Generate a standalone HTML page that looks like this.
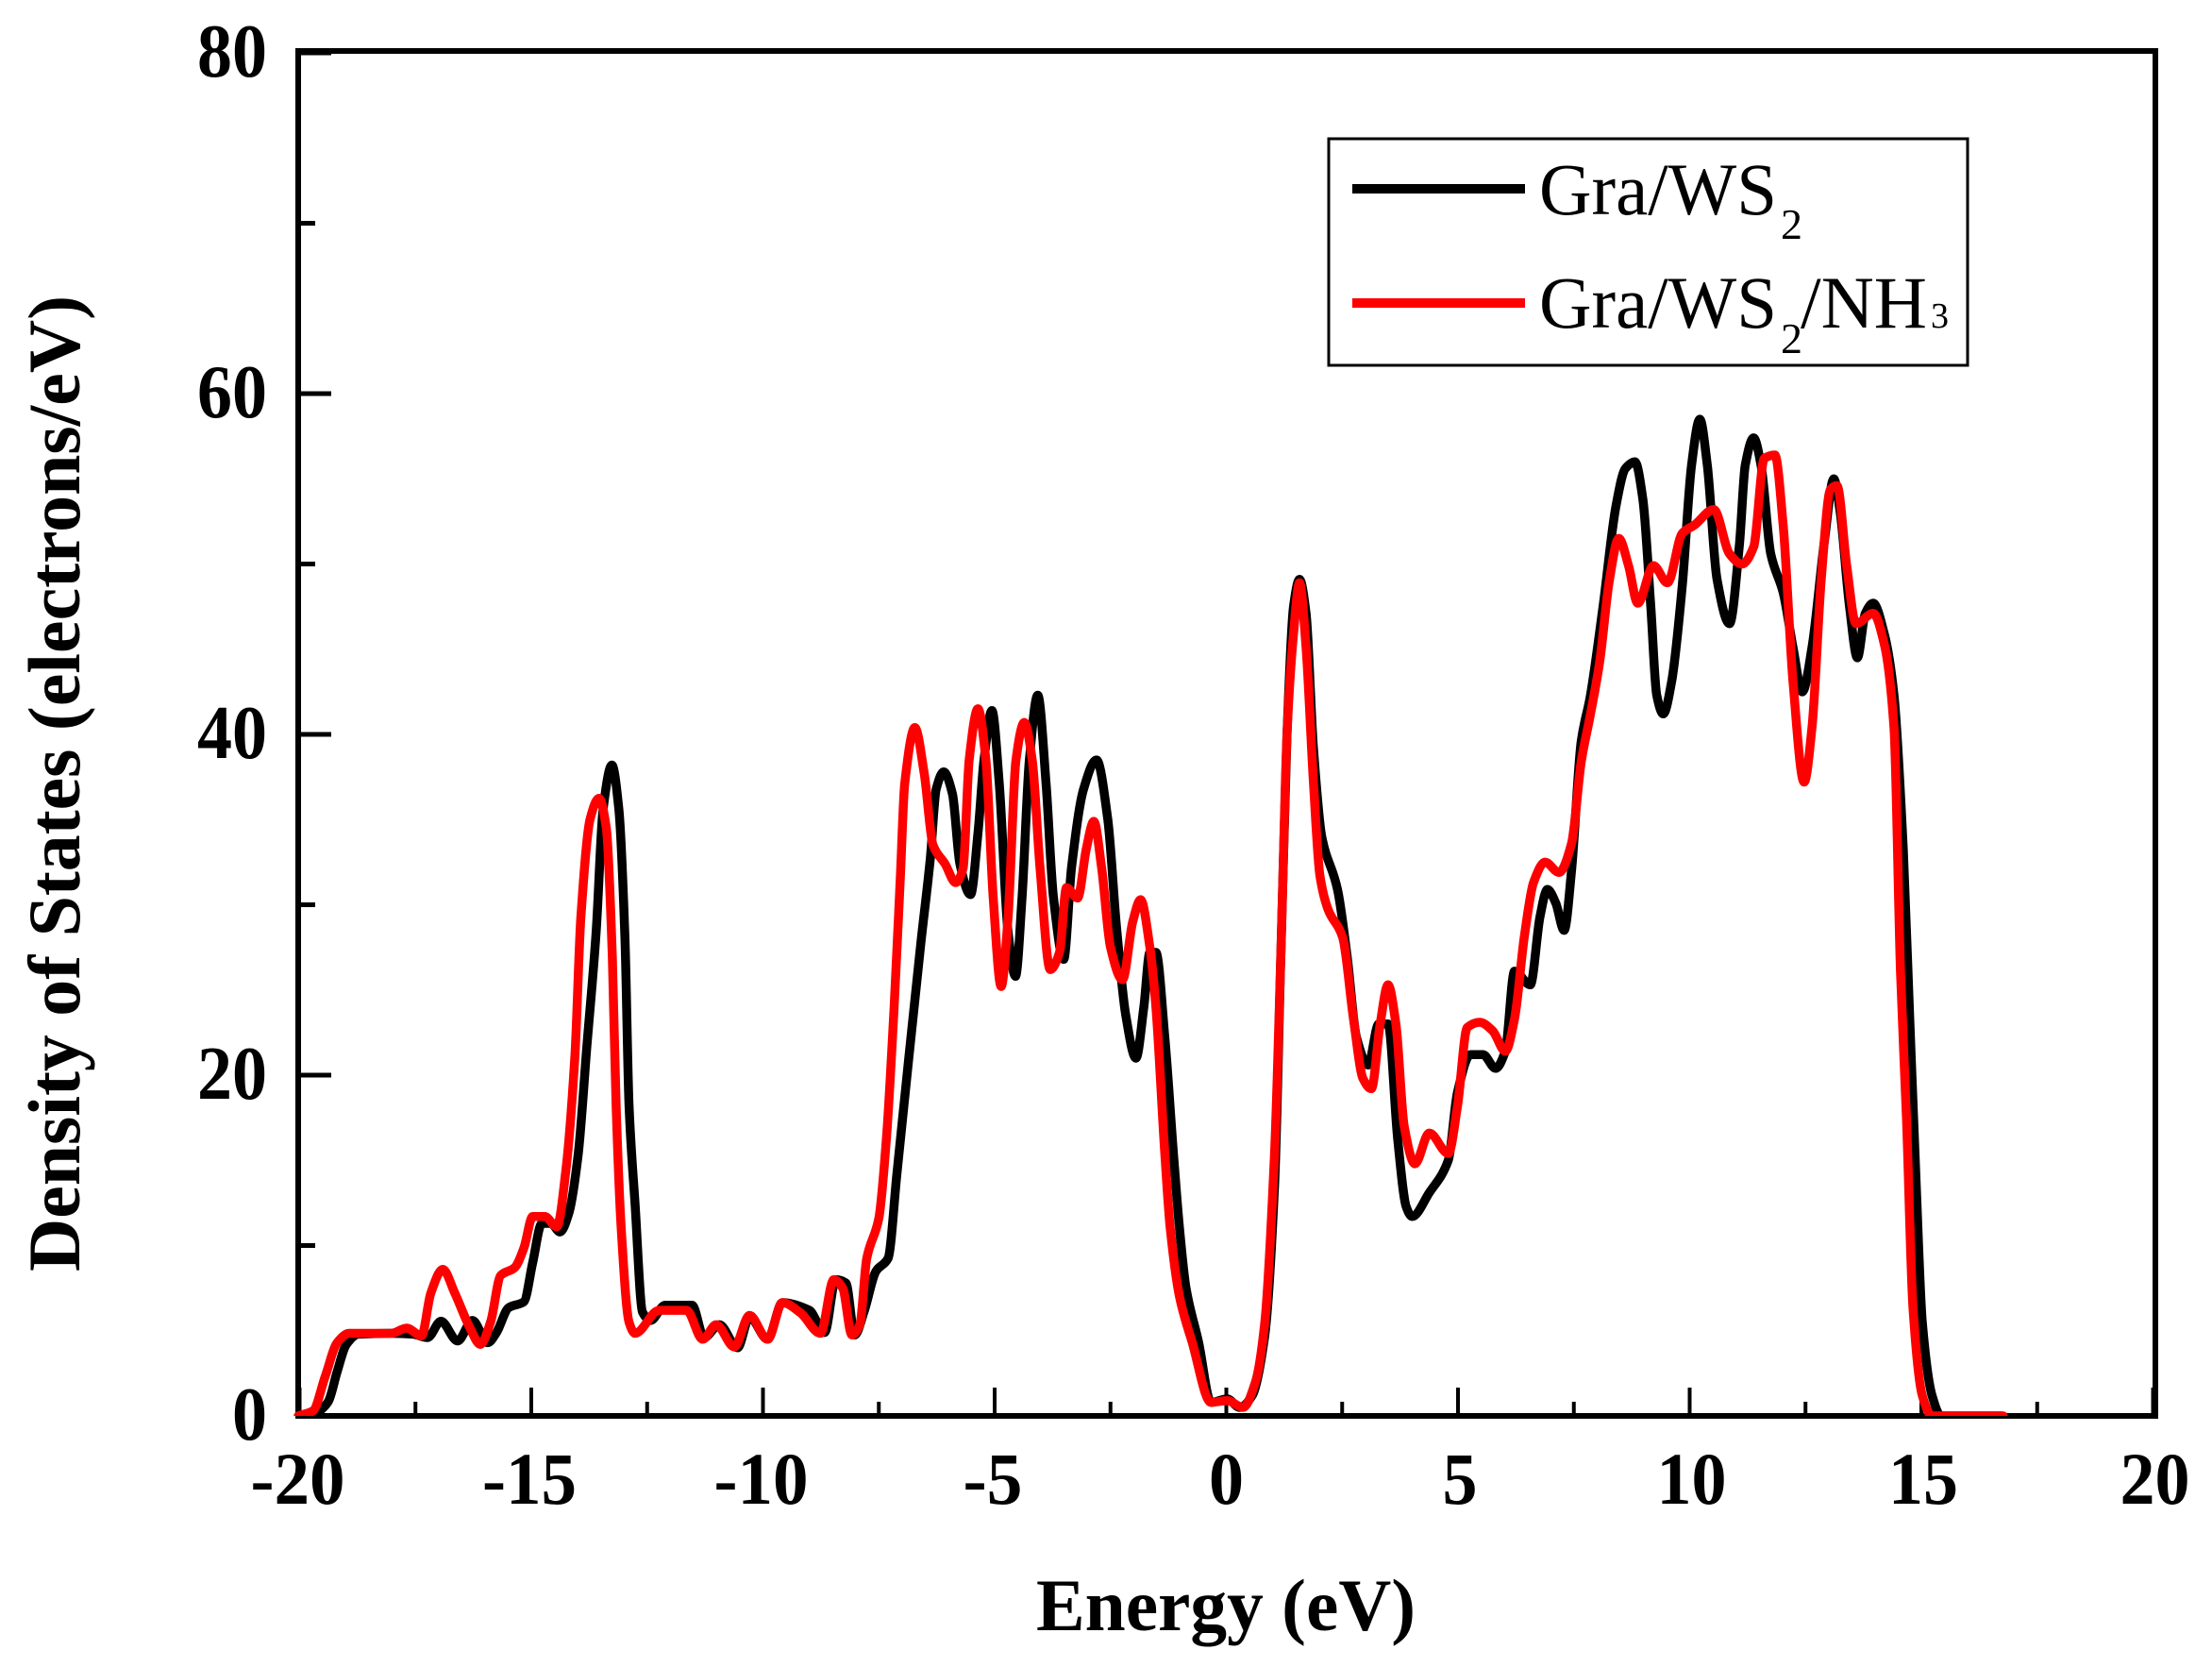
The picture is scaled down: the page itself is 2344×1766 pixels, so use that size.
<!DOCTYPE html>
<html lang="en">
<head>
<meta charset="utf-8">
<title>Density of States</title>
<style>
html,body{margin:0;padding:0;background:#fff;width:2344px;height:1766px;overflow:hidden}
svg{display:block}
text{font-family:"Liberation Serif",serif;fill:#000}
.b{font-weight:bold}
</style>
</head>
<body>
<svg id="chart" xmlns="http://www.w3.org/2000/svg" width="2344" height="1766" viewBox="0 0 2344 1766">
  <defs>
    <clipPath id="plot-clip"><rect x="0" y="0" width="2344" height="1500"/></clipPath>
  </defs>
  <rect x="0" y="0" width="2344" height="1766" fill="#ffffff"/>
  <g id="axes"></g>
  <text class="b" x="1299" y="1727" font-size="78" text-anchor="middle" textLength="402" lengthAdjust="spacingAndGlyphs">Energy (eV)</text>
  <text class="b" transform="translate(84,830) rotate(-90)" x="0" y="0" font-size="78" text-anchor="middle" textLength="1034" lengthAdjust="spacingAndGlyphs">Density of States (electrons/eV)</text>
  <g id="series" clip-path="url(#plot-clip)"></g>
  <g>
    <rect x="1408" y="147" width="677" height="240" fill="none" stroke="#000" stroke-width="3"/>
    <line x1="1433" y1="200" x2="1616" y2="200" stroke="#000" stroke-width="10"/>
    <text x="1631" y="227" font-size="78" textLength="252" lengthAdjust="spacingAndGlyphs">Gra/WS</text>
    <text x="1887" y="253" font-size="46">2</text>
    <line x1="1433" y1="321" x2="1616" y2="321" stroke="#ff0000" stroke-width="10"/>
    <text x="1631" y="347" font-size="78" textLength="252" lengthAdjust="spacingAndGlyphs">Gra/WS</text>
    <text x="1887" y="374" font-size="46">2</text>
    <text x="1908" y="347" font-size="78" textLength="134" lengthAdjust="spacingAndGlyphs">/NH</text>
    <text x="2046" y="347" font-size="38">3</text>
  </g>
</svg>
<script>
const xTickValues = [-20,-15,-10,-5,0,5,10,15,20];
const xMinorValues = [-17.5,-12.5,-7.5,-2.5,2.5,7.5,12.5,17.5];
const yTickValues = [0,20,40,60,80];
const yMinorValues = [10,30,50,70];

const blackEnergy = [-19.64,-19.38,-19.19,-18.99,-18.73,-18.02,-17.56,-17.24,-16.95,-16.59,-16.27,-15.94,-15.75,-15.49,-15.16,-14.97,-14.77,-14.58,-14.38,-14.19,-13.99,-13.8,-13.6,-13.45,-13.26,-13.11,-12.98,-12.89,-12.76,-12.6,-12.43,-12.11,-11.53,-11.27,-10.94,-10.55,-10.29,-9.9,-9.58,-9.0,-8.67,-8.43,-8.21,-8.02,-7.82,-7.56,-7.3,-7.11,-6.85,-6.59,-6.39,-6.26,-6.1,-5.91,-5.75,-5.52,-5.36,-5.23,-5.06,-4.9,-4.71,-4.55,-4.41,-4.25,-4.07,-3.89,-3.73,-3.51,-3.34,-3.08,-2.8,-2.56,-2.37,-2.17,-1.95,-1.78,-1.65,-1.52,-1.33,-1.13,-1.01,-0.87,-0.6,-0.33,0.02,0.29,0.56,0.83,1.04,1.18,1.31,1.45,1.58,1.72,1.88,2.06,2.4,2.61,2.81,3.06,3.29,3.49,3.7,3.88,4.01,4.38,4.79,4.99,5.27,5.54,5.81,6.02,6.22,6.56,6.77,6.93,7.11,7.29,7.45,7.66,7.86,8.13,8.41,8.61,8.82,8.99,9.16,9.29,9.43,9.61,9.84,10.04,10.22,10.38,10.59,10.86,11.07,11.2,11.38,11.54,11.75,12.02,12.23,12.43,12.64,12.91,13.11,13.25,13.45,13.62,13.79,13.96,14.2,14.41,14.61,14.75,14.89,15.02,15.23,15.43,16.73];
const blackDos = [0.1,0.85,2.6,4.2,4.8,4.85,4.8,4.6,5.55,4.4,5.6,4.3,4.9,6.35,6.7,9.0,11.3,11.3,10.8,11.9,15.3,21.7,28.4,35.6,38.2,35.6,28.1,18.2,12.4,6.1,5.6,6.5,6.5,4.6,5.35,4.0,5.8,4.5,6.65,6.2,4.9,8.0,7.8,4.75,6.1,8.5,9.25,14.2,21.1,27.8,32.7,36.8,37.8,36.5,32.4,30.6,34.2,38.5,41.4,37.1,28.4,25.8,30.4,38.5,42.3,37.1,30.4,26.8,32.2,36.8,38.5,35.05,28.7,23.5,21,24,27.2,27.2,22.3,15,11,7.5,4.35,0.8,1.0,0.5,1.2,4.75,13.5,27.3,40,47.5,49.1,47.1,39.2,34,30.9,26.9,22.2,20.6,23,23,16.2,12.3,11.7,13.1,15,19,21.2,21.2,20.4,21.4,26.1,25.3,29.3,30.9,30.1,28.5,32,39.6,42.3,47.5,53.4,55.6,56,53.8,47.5,42.3,41.2,43.1,48.7,55.8,58.5,55.8,49.1,46.5,51,55.8,57.4,55.8,50.6,48.3,45.1,42.5,45.1,51.4,55,53,47.5,44.5,47.1,47.7,45.9,42.3,33.2,23.3,13.5,5.5,1.2,0,0];

const redEnergy = [-20.03,-19.71,-19.45,-19.19,-18.93,-18.02,-17.69,-17.37,-17.17,-16.91,-16.65,-16.33,-16.1,-15.88,-15.66,-15.36,-15.16,-14.97,-14.71,-14.45,-14.25,-14.06,-13.93,-13.73,-13.54,-13.38,-13.25,-13.17,-13.06,-12.89,-12.76,-12.24,-11.65,-11.3,-11.01,-10.62,-10.29,-9.9,-9.58,-9.19,-8.76,-8.47,-8.28,-8.08,-7.91,-7.76,-7.5,-7.33,-7.17,-7.04,-6.94,-6.72,-6.52,-6.33,-6.07,-5.84,-5.68,-5.55,-5.36,-5.19,-5.03,-4.86,-4.71,-4.54,-4.36,-4.19,-4.02,-3.8,-3.6,-3.45,-3.21,-3.02,-2.86,-2.69,-2.5,-2.24,-2.02,-1.85,-1.65,-1.52,-1.33,-1.21,-1.01,-0.74,-0.33,0.02,0.36,0.63,0.83,1.04,1.18,1.31,1.45,1.58,1.72,1.88,2.02,2.2,2.51,2.74,2.95,3.13,3.32,3.49,3.66,3.84,4.07,4.38,4.79,4.99,5.2,5.47,5.75,6.02,6.22,6.43,6.63,6.88,7.18,7.45,7.66,7.86,8.06,8.27,8.47,8.68,8.88,9.22,9.52,9.84,10.11,10.52,10.86,11.13,11.38,11.61,11.84,12.02,12.23,12.47,12.64,12.84,13.04,13.18,13.39,13.59,13.96,14.2,14.41,14.55,14.68,14.82,15.02,15.23,16.77];
const redDos = [0,0.3,2.3,4.3,4.85,4.85,5.15,4.7,7.2,8.6,7.2,5.2,4.2,5.5,8.25,8.7,9.85,11.7,11.7,11.1,14.5,21.1,29.25,35.05,36.25,34.5,26.9,18.2,11,5.5,4.85,6.2,6.2,4.5,5.35,4.05,5.9,4.5,6.65,6.05,4.85,8.0,7.5,4.75,5.35,9.25,11.6,16.5,24,31.3,37.1,40.4,37.7,33.5,32.4,31.3,32.15,38.5,41.5,38.5,30.4,25.2,29.25,38.5,40.7,38.5,32.15,26.2,27.2,31,30.4,33.3,34.9,32.15,27.5,25.6,29,30.3,27.5,24,15.5,11,7,4.35,0.8,0.9,0.5,2,5.5,15.4,27.3,40,45.9,48.9,45.1,37.2,31.7,29.7,28.1,23.4,19.8,19.2,23,25.3,23,17,14.8,16.6,15.4,18.2,22.8,23.1,22.6,21.4,23.3,28.1,31.3,32.5,31.9,33.6,38.4,41.2,44.3,49.1,51.5,49.9,47.7,49.9,48.9,51.8,52.3,53.2,50.6,50,51,56.2,56.4,52.2,43.1,37.2,40.4,49.1,54.4,54.6,49.9,46.5,47.1,45.3,40.4,26.1,17.4,6.3,1.2,0,0];

const SVGNS = 'http://www.w3.org/2000/svg';
const plotLeft = 316, plotRight = 2284, plotTop = 54, plotBottom = 1500;
function xScale(e){ return 1299.5 + 49.1 * e; }
function yScale(d){ return 1500 - 18.05 * d; }
function labelWidth(v){ const s = String(Math.abs(v)); return s.length * 37 + (v < 0 ? 26 : 0); }

function make(tag, attrs){
  const el = document.createElementNS(SVGNS, tag);
  for (const k in attrs) el.setAttribute(k, attrs[k]);
  return el;
}

function smoothPath(es, ds){
  const px = es.map(xScale), py = ds.map(yScale), n = px.length;
  const s = [], m = [];
  for (let i = 0; i < n - 1; i++) s.push((py[i+1]-py[i]) / (px[i+1]-px[i]));
  m.push(s[0]);
  for (let i = 1; i < n - 1; i++){
    m.push(s[i-1]*s[i] <= 0 ? 0 : 2*s[i-1]*s[i]/(s[i-1]+s[i]));
  }
  m.push(s[n-2]);
  let d = 'M' + px[0].toFixed(1) + ' ' + py[0].toFixed(1);
  for (let i = 0; i < n - 1; i++){
    const h = (px[i+1]-px[i]) / 3;
    d += 'C' + (px[i]+h).toFixed(1) + ' ' + (py[i]+m[i]*h).toFixed(1) + ' ' +
         (px[i+1]-h).toFixed(1) + ' ' + (py[i+1]-m[i+1]*h).toFixed(1) + ' ' +
         px[i+1].toFixed(1) + ' ' + py[i+1].toFixed(1);
  }
  return d;
}

const axes = document.getElementById('axes');
const series = document.getElementById('series');

const frame = make('rect', {x: plotLeft, y: plotTop, width: plotRight - plotLeft, height: plotBottom - plotTop, fill: 'none', stroke: '#000', 'stroke-width': 6});


axes.appendChild(frame);

xTickValues.forEach(function(v){
  const t = make('line', {x1: xScale(v), y1: plotBottom, x2: xScale(v), y2: plotBottom - 30, stroke: '#000', 'stroke-width': 4});
  
  
  axes.appendChild(t);
  const l = make('text', {x: xScale(v) + (v < 0 ? -2 : (v > 0 ? 2 : 0)), y: 1593, 'font-size': 78, 'text-anchor': 'middle', 'class': 'b', textLength: labelWidth(v), lengthAdjust: 'spacingAndGlyphs'});
  
  
  l.textContent = String(v);
  axes.appendChild(l);
});
xMinorValues.forEach(function(v){
  const t = make('line', {x1: xScale(v), y1: plotBottom, x2: xScale(v), y2: plotBottom - 15, stroke: '#000', 'stroke-width': 4});
  
  
  axes.appendChild(t);
});
yTickValues.forEach(function(v){
  const t = make('line', {x1: plotLeft, y1: yScale(v), x2: plotLeft + 35, y2: yScale(v), stroke: '#000', 'stroke-width': 5});
  
  
  axes.appendChild(t);
  const l = make('text', {x: 283, y: yScale(v) + 25, 'font-size': 80, 'text-anchor': 'end', 'class': 'b', textLength: labelWidth(v), lengthAdjust: 'spacingAndGlyphs'});
  
  
  l.textContent = String(v);
  axes.appendChild(l);
});
yMinorValues.forEach(function(v){
  const t = make('line', {x1: plotLeft, y1: yScale(v), x2: plotLeft + 18, y2: yScale(v), stroke: '#000', 'stroke-width': 5});
  
  
  axes.appendChild(t);
});

const blackLine = make('path', {d: smoothPath(blackEnergy, blackDos), fill: 'none', stroke: '#000000', 'stroke-width': 9.5, 'stroke-linejoin': 'round', 'stroke-linecap': 'round'});


series.appendChild(blackLine);

const redLine = make('path', {d: smoothPath(redEnergy, redDos), fill: 'none', stroke: '#ff0000', 'stroke-width': 9.5, 'stroke-linejoin': 'round', 'stroke-linecap': 'round'});


series.appendChild(redLine);
</script>
</body>
</html>
